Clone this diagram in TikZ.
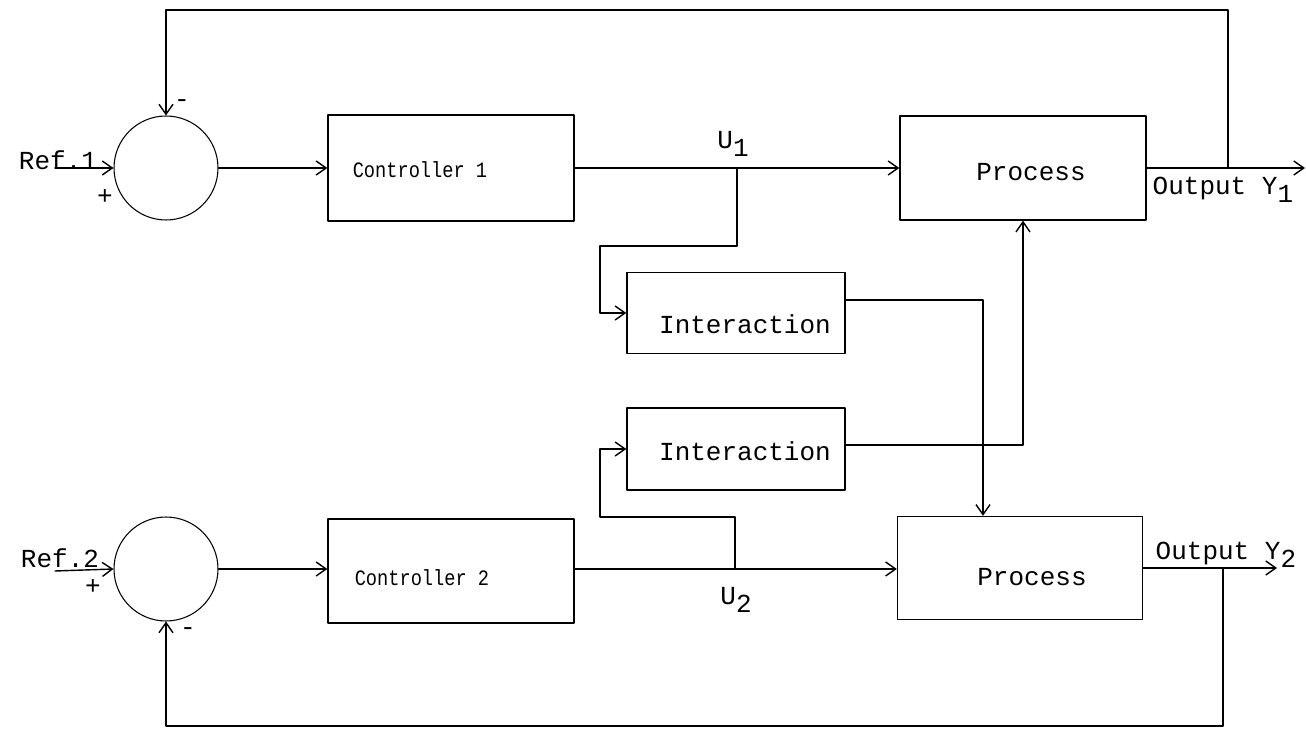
\documentclass[tikz,border=0pt]{standalone}
\usepackage{fontspec}
\setmonofont{Liberation Mono}
\usetikzlibrary{arrows.meta}

\newcommand{\dn}[1]{\raisebox{-0.55ex}{#1}}
\newcommand{\narrow}[1]{\scalebox{0.85}[1]{#1}}

\begin{document}
\begin{tikzpicture}[x=0.02cm, y=-0.02cm, line join = round, line cap = round,
  font=\ttfamily\fontsize{14.8}{16}\selectfont, line width=0.8pt,
  >={Straight Barb[length=2mm, width=2.8mm]},
  blk/.style={draw, rectangle, inner sep=0pt},
  sum/.style={draw, circle, minimum size=2.08cm, inner sep=0pt, line width=0.6pt},
  ctl/.style={font=\ttfamily\fontsize{12.5}{14}\selectfont}]

\useasboundingbox (0,0) rectangle (1306,729);

% summing junctions and blocks
\node[sum] (s1) at (166,168) {};
\node[sum] (s2) at (166,569) {};
\node[blk, minimum width=4.92cm, minimum height=2.12cm] (c1) at (451,168) {};
\node[blk, minimum width=4.92cm, minimum height=2.08cm] (c2) at (451,571) {};
\node[blk, minimum width=4.92cm, minimum height=2.08cm] (p1) at (1023,168) {};
\node[blk, minimum width=4.9cm, minimum height=2.06cm] (p2) at (1020,568) {};
\node[blk, minimum width=4.36cm, minimum height=1.62cm] (i1) at (736,313) {};
\node[blk, minimum width=4.36cm, minimum height=1.64cm] (i2) at (736,449) {};

\node[ctl] at (420,170) {\narrow{Controller 1}};
\node[ctl] at (422,578) {\narrow{Controller 2}};
\node at (1031,172) {Process};
\node at (1032,577) {Process};
\node at (745,324) {Interaction};
\node at (745,451) {Interaction};

% signs and signal names
\node at (58,160) {Ref.1};
\node at (60,558) {Ref.2};
\node at (105,197) {+};
\node at (182,104) {-};
\node at (93,587) {+};
\node at (188,632) {-};
\node at (733,144) {U\dn{1}};
\node at (736,600) {U\dn{2}};
\node[anchor=west, inner sep=0pt] at (1152,190) {Output Y\dn{1}};
\node[anchor=west, inner sep=0pt] at (1155,555) {Output Y\dn{2}};

\coordinate (r1) at (55,168);
\coordinate (r2) at (55,571);
\coordinate (b1) at (737,168);
\coordinate (b2) at (735,569);
\coordinate (f1) at (1228,168);
\coordinate (f2) at (1223,568);
\coordinate (out1) at (1305,168);
\coordinate (out2) at (1277,568);

% forward paths
\draw[->] (r1) -- (s1.west);
\draw[->] (r2) -- (s2.west);
\draw[->] (s1) -- (c1);
\draw[->] (s2) -- (c2.west |- s2);
\draw[->] (c1) -- (p1);
\draw[->] (c2.east |- b2) -- (p2.west |- b2);
\draw[->] (p1.east) -- (out1);
\draw[->] (p2.east) -- (out2);

% cross coupling
\draw[->] (b1) |- (600,246) |- (i1.west);
\draw[->] (b2) |- (600,517) |- (i2.west);
\draw[->] (i1.east |- 0,300) -| (p2.north -| 983,0);
\draw[->] (i2.east |- 0,445) -| (p1.south);

% feedback loops
\draw[->] (f1) -- (1228,10) -| (s1.north);
\draw[->] (f2) -- (1223,726) -| (s2.south);
\end{tikzpicture}
\end{document}
